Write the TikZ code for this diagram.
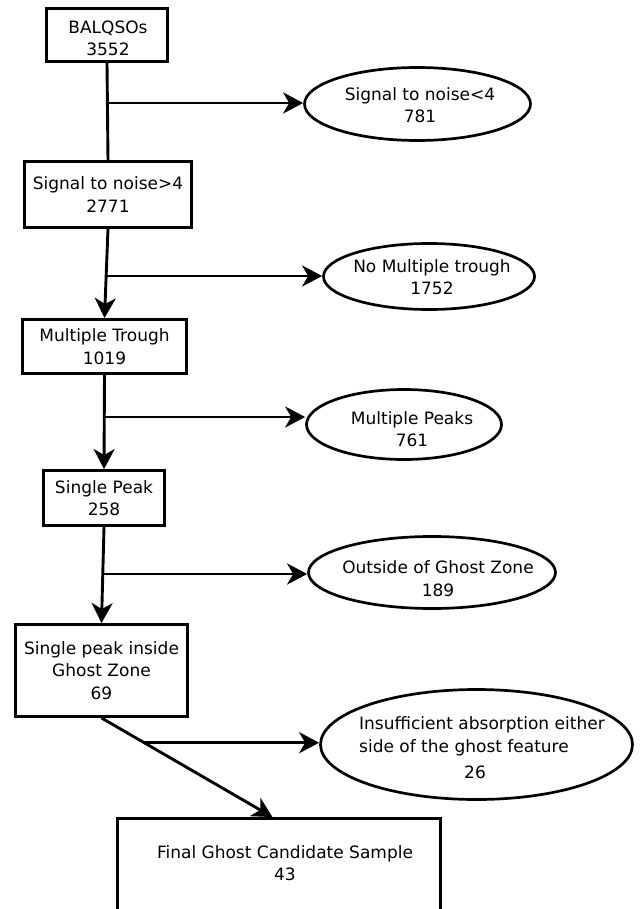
\documentclass[tikz,border=0pt]{standalone}
\usepackage{fontspec}
\setmainfont{DejaVu Sans}
\usetikzlibrary{arrows.meta,shapes.geometric,calc}
\begin{document}
\begin{tikzpicture}[x=1pt,y=-1pt,
  box/.style={draw,line width=2.9pt,rectangle,inner sep=0pt,align=center,font=\fontsize{17}{22.5}\selectfont},
  oval/.style={draw,line width=2.7pt,ellipse,inner sep=0pt},
  lbl/.style={inner sep=0pt,align=center,font=\fontsize{17}{22.5}\selectfont},
  flow/.style={line width=2.9pt},
  arr/.style={flow,-{Stealth[length=20pt,width=21pt,inset=6pt]}}]
\clip (0,0) rectangle (641,909);
\fill[white] (0,0) rectangle (641,909);
% main boxes
\node[box,minimum width=121pt,minimum height=53pt] (b1) at (107,35) {};
\node[lbl] (t0) at (108,38.5) {BALQSOs\\3552};
\node[box,minimum width=167pt,minimum height=66pt] (b2) at (108,194.5) {Signal to noise>4\\2771};
\node[box,minimum width=164pt,minimum height=54pt] (b3) at (104.5,346.5) {Multiple Trough\\1019};
\node[box,minimum width=121pt,minimum height=55pt] (b4) at (104,498) {Single Peak\\258};
\node[box,minimum width=172pt,minimum height=92pt] (b5) at (101.5,670.5) {Single peak inside\\Ghost Zone\\69};
\node[box,minimum width=323pt,minimum height=200pt] (final) at (279,918.5) {};
\node[lbl] (tf) at (285,863) {Final Ghost Candidate Sample\\43};
% ellipses
\node[oval,minimum width=226pt,minimum height=73pt] (e1) at (417.5,104) {};
\node[oval,minimum width=211pt,minimum height=66pt] (e2) at (429,276.5) {};
\node[oval,minimum width=195pt,minimum height=70pt] (e3) at (404,424.5) {};
\node[oval,minimum width=247pt,minimum height=72pt] (e4) at (432,572.5) {};
\node[oval,minimum width=312pt,minimum height=110pt] (e5) at (476.5,744.5) {};
\node[lbl] (t1) at (420,105) {Signal to noise<4\\781};
\node[lbl] (t2) at (432,277) {No Multiple trough\\1752};
\node[lbl] (t3) at (412,429) {Multiple Peaks\\761};
\node[lbl] (t4) at (438,578.5) {Outside of Ghost Zone\\189};
\node[lbl,align=left,anchor=west] (t5) at (359,736.5) {Insufficient absorption either\\side of the ghost feature};
\node[lbl] (t5n) at (475,772) {26};
% junctions
\coordinate (j1) at (107,103);
\coordinate (j2) at (106,276);
\coordinate (j3) at (104,417);
\coordinate (j4) at (103,574);
\coordinate (ftop) at ($(final.north west)!0.48!(final.north east)$);
\coordinate (j5) at ($(b5.south)!0.25!(ftop)$);
% connectors
\draw[flow] (b1.south) -- (b2.north);
\draw[arr] (j1) -- (j1 -| e1.west);
\draw[arr] (b2.south) -- (b3.north);
\draw[arr] (j2) -- (j2 -| e2.west);
\draw[arr] (b3.south) -- (b4.north);
\draw[arr] (j3) -- (j3 -| e3.west);
\draw[arr] (b4.south) -- (b5.north);
\draw[arr] (j4) -- (j4 -| e4.west);
\draw[arr] (b5.south) -- (ftop);
\draw[arr] (j5) -- (j5 -| e5.west);
\end{tikzpicture}
\end{document}
